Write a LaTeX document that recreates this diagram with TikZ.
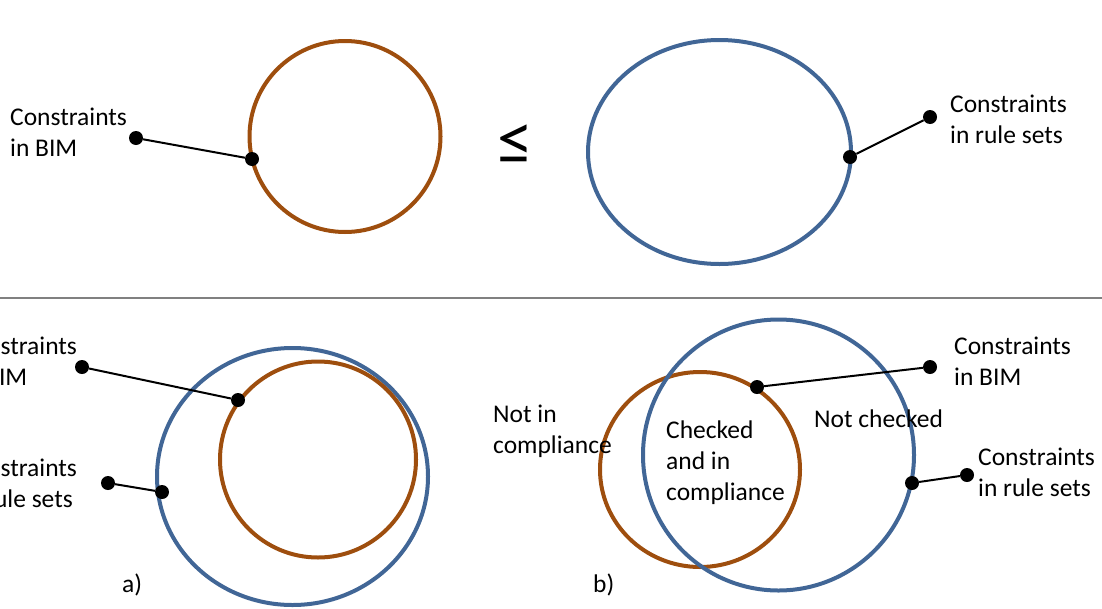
\documentclass[tikz,border=0pt]{standalone}
\usepackage{fontspec}
\setmainfont{Carlito}
\definecolor{setorange}{RGB}{158,78,14}
\definecolor{setblue}{RGB}{65,102,150}
\definecolor{rulegray}{RGB}{128,128,128}
\begin{document}
\begin{tikzpicture}[x=1pt,y=-1pt,
  bimring/.style={draw=setorange,line width=4pt},
  ruleringstyle/.style={draw=setblue,line width=4pt},
  pin/.style={circle,fill=black,inner sep=0pt,minimum size=14pt},
  lead/.style={draw=black,line width=2pt},
  % labels are placed at the baseline of their last line
  lbl/.style={anchor=base west,inner sep=0pt,align=left,
    font=\fontsize{25.5}{31}\selectfont}]
\useasboundingbox (0,0) rectangle (1102,608);
\clip (0,0) rectangle (1102,608);

% ---- upper panel: the two sets compared ----
\draw[bimring] (345,136.5) circle [radius=95.5];
\draw[ruleringstyle] (719.5,152) ellipse [x radius=131.5,y radius=112];
\node[font=\fontsize{72}{72}\selectfont,inner sep=0pt] (leq) at (515,145) {≤};

\node[pin] (bimA) at (252,159) {};
\node[pin] (bimAtag) at (136,138) {};
\draw[lead] (bimAtag) -- (bimA);
\node[lbl] (bimAtxt) at (10,156.5) {Constraints\\in BIM};

\node[pin] (ruleA) at (850,157) {};
\node[pin] (ruleAtag) at (930,117) {};
\draw[lead] (ruleA) -- (ruleAtag);
\node[lbl] (ruleAtxt) at (950,143.5) {Constraints\\in rule sets};

% ---- separator ----
\draw[rulegray,line width=1.5pt] (0,298) -- (1102,298);

% ---- lower panel a): BIM constraints inside rule-set constraints ----
\draw[ruleringstyle] (292.5,476.5) ellipse [x radius=135.5,y radius=128.5];
\draw[bimring] (318,459.5) circle [radius=98];

\node[pin] (bimB) at (238,400) {};
\node[pin] (bimBtag) at (82,367) {};
\draw[lead] (bimBtag) -- (bimB);
\node[lbl] (bimBtxt) at (-40,385) {Constraints\\in BIM};

\node[pin] (ruleB) at (162,492) {};
\node[pin] (ruleBtag) at (108,483) {};
\draw[lead] (ruleBtag) -- (ruleB);
\node[lbl] (ruleBtxt) at (-40,507) {Constraints\\in rule sets};

\node[lbl] (capa) at (122,592) {a)};

% ---- lower panel b): partial overlap ----
\draw[bimring] (700,469.5) ellipse [x radius=100,y radius=97.5];
\draw[ruleringstyle] (778.5,455) circle [radius=135.5];

\node[pin] (bimC) at (757,387) {};
\node[pin] (bimCtag) at (930,367) {};
\draw[lead] (bimC) -- (bimCtag);
\node[lbl] (bimCtxt) at (954,385) {Constraints\\in BIM};

\node[pin] (ruleC) at (912,483) {};
\node[pin] (ruleCtag) at (967,475) {};
\draw[lead] (ruleC) -- (ruleCtag);
\node[lbl] (ruleCtxt) at (978,496) {Constraints\\in rule sets};

\node[lbl] (notin) at (493,453) {Not in\\compliance};
\node[lbl] (checked) at (666,500) {Checked\\and in\\compliance};
\node[lbl] (notchecked) at (814,427) {Not checked};

\node[lbl] (capb) at (593,592) {b)};
\end{tikzpicture}
\end{document}
